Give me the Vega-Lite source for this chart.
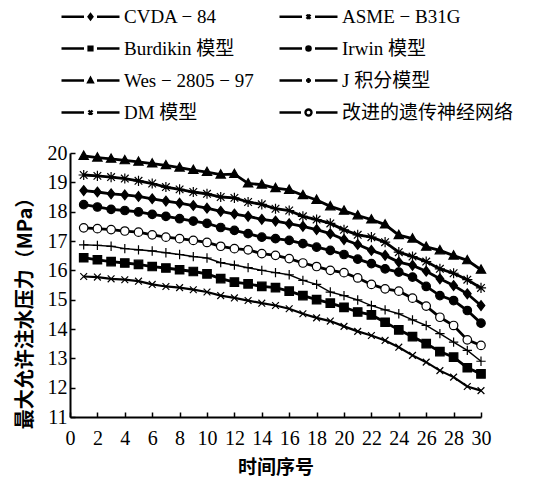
{
  "$schema": "https://vega.github.io/schema/vega-lite/v6.json",
  "autosize": "none",
  "padding": {"left": 70, "top": 153, "right": 67, "bottom": 69},
  "width": 411,
  "height": 264,
  "background": "white",
  "config": {
    "view": {"stroke": null},
    "axis": {"grid": false, "domainColor": "black", "tickColor": "black", "labelColor": "black", "titleColor": "black"},
    "legend": {
      "orient": "none", "legendX": 11, "legendY": -146, "title": null,
      "direction": "horizontal", "columns": 2, "columnPadding": 20, "rowPadding": 12,
      "symbolSize": 100, "symbolStrokeWidth": 2.4, "symbolStrokeColor": "black", "labelOffset": 24,
      "labelFont": "Liberation Serif, Noto Sans CJK SC", "labelFontSize": 19, "labelColor": "black",
      "labelLimit": 300
    }
  },
  "data": {
    "values": [
      {"x":1,"CVDA − 84":18.72,"ASME − B31G":19.25,"Burdikin 模型":16.43,"Irwin 模型":18.24,"Wes − 2805 − 97":19.9,"J 积分模型":16.87,"DM 模型":15.79,"改进的遗传神经网络":17.45},
      {"x":2,"CVDA − 84":18.67,"ASME − B31G":19.22,"Burdikin 模型":16.36,"Irwin 模型":18.16,"Wes − 2805 − 97":19.84,"J 积分模型":16.85,"DM 模型":15.77,"改进的遗传神经网络":17.42},
      {"x":3,"CVDA − 84":18.61,"ASME − B31G":19.18,"Burdikin 模型":16.3,"Irwin 模型":18.08,"Wes − 2805 − 97":19.8,"J 积分模型":16.82,"DM 模型":15.71,"改进的遗传神经网络":17.39},
      {"x":4,"CVDA − 84":18.57,"ASME − B31G":19.13,"Burdikin 模型":16.25,"Irwin 模型":18.04,"Wes − 2805 − 97":19.75,"J 积分模型":16.74,"DM 模型":15.68,"改进的遗传神经网络":17.34},
      {"x":5,"CVDA − 84":18.52,"ASME − B31G":19.05,"Burdikin 模型":16.2,"Irwin 模型":17.99,"Wes − 2805 − 97":19.7,"J 积分模型":16.7,"DM 模型":15.63,"改进的遗传神经网络":17.3},
      {"x":6,"CVDA − 84":18.44,"ASME − B31G":18.96,"Burdikin 模型":16.13,"Irwin 模型":17.91,"Wes − 2805 − 97":19.64,"J 积分模型":16.66,"DM 模型":15.52,"改进的遗传神经网络":17.21},
      {"x":7,"CVDA − 84":18.36,"ASME − B31G":18.84,"Burdikin 模型":16.08,"Irwin 模型":17.84,"Wes − 2805 − 97":19.58,"J 积分模型":16.6,"DM 模型":15.45,"改进的遗传神经网络":17.13},
      {"x":8,"CVDA − 84":18.29,"ASME − B31G":18.76,"Burdikin 模型":16.02,"Irwin 模型":17.76,"Wes − 2805 − 97":19.5,"J 积分模型":16.54,"DM 模型":15.41,"改进的遗传神经网络":17.08},
      {"x":9,"CVDA − 84":18.21,"ASME − B31G":18.67,"Burdikin 模型":15.96,"Irwin 模型":17.68,"Wes − 2805 − 97":19.42,"J 积分模型":16.47,"DM 模型":15.34,"改进的遗传神经网络":17.02},
      {"x":10,"CVDA − 84":18.12,"ASME − B31G":18.61,"Burdikin 模型":15.88,"Irwin 模型":17.6,"Wes − 2805 − 97":19.35,"J 积分模型":16.42,"DM 模型":15.26,"改进的遗传神经网络":16.95},
      {"x":11,"CVDA − 84":18.01,"ASME − B31G":18.5,"Burdikin 模型":15.72,"Irwin 模型":17.46,"Wes − 2805 − 97":19.26,"J 积分模型":16.26,"DM 模型":15.14,"改进的遗传神经网络":16.82},
      {"x":12,"CVDA − 84":17.92,"ASME − B31G":18.47,"Burdikin 模型":15.6,"Irwin 模型":17.36,"Wes − 2805 − 97":19.28,"J 积分模型":16.18,"DM 模型":15.06,"改进的遗传神经网络":16.74},
      {"x":13,"CVDA − 84":17.84,"ASME − B31G":18.33,"Burdikin 模型":15.54,"Irwin 模型":17.25,"Wes − 2805 − 97":18.96,"J 积分模型":16.09,"DM 模型":14.97,"改进的遗传神经网络":16.7},
      {"x":14,"CVDA − 84":17.74,"ASME − B31G":18.25,"Burdikin 模型":15.45,"Irwin 模型":17.13,"Wes − 2805 − 97":18.92,"J 积分模型":16.0,"DM 模型":14.88,"改进的遗传神经网络":16.57},
      {"x":15,"CVDA − 84":17.68,"ASME − B31G":18.1,"Burdikin 模型":15.41,"Irwin 模型":17.08,"Wes − 2805 − 97":18.8,"J 积分模型":15.92,"DM 模型":14.8,"改进的遗传神经网络":16.51},
      {"x":16,"CVDA − 84":17.59,"ASME − B31G":18.04,"Burdikin 模型":15.29,"Irwin 模型":17.02,"Wes − 2805 − 97":18.74,"J 积分模型":15.85,"DM 模型":14.69,"改进的遗传神经网络":16.4},
      {"x":17,"CVDA − 84":17.5,"ASME − B31G":17.84,"Burdikin 模型":15.14,"Irwin 模型":16.91,"Wes − 2805 − 97":18.56,"J 积分模型":15.66,"DM 模型":14.52,"改进的遗传神经网络":16.25},
      {"x":18,"CVDA − 84":17.39,"ASME − B31G":17.73,"Burdikin 模型":15.0,"Irwin 模型":16.79,"Wes − 2805 − 97":18.4,"J 积分模型":15.52,"DM 模型":14.38,"改进的遗传神经网络":16.13},
      {"x":19,"CVDA − 84":17.25,"ASME − B31G":17.6,"Burdikin 模型":14.88,"Irwin 模型":16.68,"Wes − 2805 − 97":18.18,"J 积分模型":15.26,"DM 模型":14.27,"改进的遗传神经网络":16.0},
      {"x":20,"CVDA − 84":17.05,"ASME − B31G":17.38,"Burdikin 模型":14.74,"Irwin 模型":16.54,"Wes − 2805 − 97":18.03,"J 积分模型":15.14,"DM 模型":14.09,"改进的遗传神经网络":15.92},
      {"x":21,"CVDA − 84":16.88,"ASME − B31G":17.21,"Burdikin 模型":14.58,"Irwin 模型":16.38,"Wes − 2805 − 97":17.87,"J 积分模型":14.99,"DM 模型":13.92,"改进的遗传神经网络":15.74},
      {"x":22,"CVDA − 84":16.68,"ASME − B31G":17.13,"Burdikin 模型":14.48,"Irwin 模型":16.23,"Wes − 2805 − 97":17.73,"J 积分模型":14.8,"DM 模型":13.78,"改进的遗传神经网络":15.52},
      {"x":23,"CVDA − 84":16.51,"ASME − B31G":16.96,"Burdikin 模型":14.23,"Irwin 模型":16.05,"Wes − 2805 − 97":17.56,"J 积分模型":14.65,"DM 模型":13.61,"改进的遗传神经网络":15.37},
      {"x":24,"CVDA − 84":16.28,"ASME − B31G":16.62,"Burdikin 模型":13.97,"Irwin 模型":15.94,"Wes − 2805 − 97":17.2,"J 积分模型":14.52,"DM 模型":13.38,"改进的遗传神经网络":15.29},
      {"x":25,"CVDA − 84":16.17,"ASME − B31G":16.47,"Burdikin 模型":13.74,"Irwin 模型":15.77,"Wes − 2805 − 97":17.08,"J 积分模型":14.31,"DM 模型":13.1,"改进的遗传神经网络":15.05},
      {"x":26,"CVDA − 84":15.97,"ASME − B31G":16.3,"Burdikin 模型":13.5,"Irwin 模型":15.45,"Wes − 2805 − 97":16.8,"J 积分模型":14.12,"DM 模型":12.87,"改进的遗传神经网络":14.78},
      {"x":27,"CVDA − 84":15.71,"ASME − B31G":16.05,"Burdikin 模型":13.23,"Irwin 模型":15.14,"Wes − 2805 − 97":16.68,"J 积分模型":13.84,"DM 模型":12.58,"改进的遗传神经网络":14.4},
      {"x":28,"CVDA − 84":15.48,"ASME − B31G":15.9,"Burdikin 模型":13.04,"Irwin 模型":14.97,"Wes − 2805 − 97":16.5,"J 积分模型":13.55,"DM 模型":12.36,"改进的遗传神经网络":14.12},
      {"x":29,"CVDA − 84":15.2,"ASME − B31G":15.68,"Burdikin 模型":12.68,"Irwin 模型":14.63,"Wes − 2805 − 97":16.34,"J 积分模型":13.27,"DM 模型":12.04,"改进的遗传神经网络":13.63},
      {"x":30,"CVDA − 84":14.8,"ASME − B31G":15.4,"Burdikin 模型":12.47,"Irwin 模型":14.2,"Wes − 2805 − 97":16.02,"J 积分模型":12.9,"DM 模型":11.9,"改进的遗传神经网络":13.44}
    ]
  },
  "transform": [
    {"fold": ["CVDA − 84","ASME − B31G","Burdikin 模型","Irwin 模型","Wes − 2805 − 97","J 积分模型","DM 模型","改进的遗传神经网络"], "as": ["series","pressure"]}
  ],
  "encoding": {
    "x": {
      "field": "x", "type": "quantitative",
      "scale": {"domain": [0, 30], "nice": false, "zero": false},
      "axis": {
        "title": "时间序号", "values": [0,2,4,6,8,10,12,14,16,18,20,22,24,26,28,30],
        "tickSize": -5, "tickWidth": 1.5, "domainWidth": 2, "labelPadding": 16,
        "labelFont": "Liberation Serif", "labelFontSize": 20, "labelFlush": false, "labelOverlap": false,
        "titleFont": "Noto Sans CJK SC", "titleFontSize": 19, "titleFontWeight": "bold", "titlePadding": 10
      }
    },
    "y": {
      "field": "pressure", "type": "quantitative",
      "scale": {"domain": [11, 20], "nice": false, "zero": false},
      "axis": {
        "title": "最大允许注水压力（MPa）", "values": [11,12,13,14,15,16,17,18,19,20],
        "tickSize": -5, "tickWidth": 1.5, "domainWidth": 2, "labelPadding": 8,
        "labelFont": "Liberation Serif", "labelFontSize": 20, "labelFlush": false, "labelOverlap": false,
        "titleFont": "Noto Sans CJK SC", "titleFontSize": 20, "titleFontWeight": "bold", "titlePadding": 12, "titleY": 155
      }
    }
  },
  "resolve": {"scale": {"shape": "independent", "fill": "independent", "stroke": "independent"}, "legend": {"shape": "independent", "fill": "independent", "stroke": "independent"}},
  "layer": [
    {
      "mark": {"type": "line", "color": "black"},
      "encoding": {
        "detail": {"field": "series", "type": "nominal"},
        "strokeWidth": {
          "condition": [
            {"test": "datum.series === 'J 积分模型'", "value": 1.4},
            {"test": "datum.series === 'DM 模型'", "value": 2.2}
          ],
          "value": 2.8
        }
      }
    },
    {
      "mark": {"type": "point", "stroke": "black", "strokeWidth": 1.2, "size": 72, "opacity": 1},
      "encoding": {
        "shape": {
          "field": "series", "type": "nominal", "legend": null,
          "scale": {
            "domain": ["CVDA − 84","ASME − B31G","Burdikin 模型","Irwin 模型","Wes − 2805 − 97","J 积分模型","DM 模型","改进的遗传神经网络"],
            "range": [
              "M0,-1.15L0.9,0L0,1.15L-0.9,0Z",
              "M-0.9,-0.9L0.9,0.9M-0.9,0.9L0.9,-0.9M0,-1.2L0,1.2M-1.2,0L1.2,0",
              "M-1,-1H1V1H-1Z",
              "M1,0A1,1 0 1 1 -1,0A1,1 0 1 1 1,0Z",
              "M0,-1.15L1.1,0.8L-1.1,0.8Z",
              "M0,-1.1V1.1M-1.1,0H1.1",
              "M-0.8,-0.8L0.8,0.8M-0.8,0.8L0.8,-0.8",
              "M1.0,0A1.0,1.0 0 1 1 -1.0,0A1.0,1.0 0 1 1 1.0,0Z"
            ]
          }
        },
        "fill": {
          "field": "series", "type": "nominal", "legend": null,
          "scale": {
            "domain": ["CVDA − 84","ASME − B31G","Burdikin 模型","Irwin 模型","Wes − 2805 − 97","J 积分模型","DM 模型","改进的遗传神经网络"],
            "range": ["black","white","black","black","black","transparent","transparent","white"]
          }
        }
      }
    },
    {
      "transform": [{"filter": "datum.x > 100"}],
      "mark": {"type": "point", "strokeWidth": 2.4, "size": 100, "opacity": 1},
      "encoding": {
        "shape": {
          "field": "series", "type": "nominal",
          "scale": {
            "domain": ["CVDA − 84","ASME − B31G","Burdikin 模型","Irwin 模型","Wes − 2805 − 97","J 积分模型","DM 模型","改进的遗传神经网络"],
            "range": [
              "M-5.8,0H-1.3M1.3,0H5.8M0,-0.5L0.38,0L0,0.5L-0.38,0Z",
              "M-5.8,0H-1.3M1.3,0H5.8M-0.4,-0.4L0.4,0.4M-0.4,0.4L0.4,-0.4M0,-0.5V0.5",
              "M-5.8,0H-1.3M1.3,0H5.8M-0.38,-0.38H0.38V0.38H-0.38Z",
              "M-5.8,0H-1.3M1.3,0H5.8M0.42,0A0.42,0.42 0 1 1 -0.42,0A0.42,0.42 0 1 1 0.42,0Z",
              "M-5.8,0H-1.3M1.3,0H5.8M0,-0.5L0.45,0.35L-0.45,0.35Z",
              "M-5.8,0H-1.3M1.3,0H5.8M0,-0.5V0.5M-0.5,0H0.5",
              "M-5.8,0H-1.3M1.3,0H5.8M-0.4,-0.4L0.4,0.4M-0.4,0.4L0.4,-0.4",
              "M-5.8,0H-1.5M1.5,0H5.8M0.6,0A0.6,0.6 0 1 1 -0.6,0A0.6,0.6 0 1 1 0.6,0Z"
            ]
          },
          "legend": {}
        },
        "fill": {
          "field": "series", "type": "nominal",
          "scale": {
            "domain": ["CVDA − 84","ASME − B31G","Burdikin 模型","Irwin 模型","Wes − 2805 − 97","J 积分模型","DM 模型","改进的遗传神经网络"],
            "range": ["black","black","black","black","black","black","black","white"]
          },
          "legend": {}
        },
        "stroke": {
          "field": "series", "type": "nominal",
          "scale": {
            "domain": ["CVDA − 84","ASME − B31G","Burdikin 模型","Irwin 模型","Wes − 2805 − 97","J 积分模型","DM 模型","改进的遗传神经网络"],
            "range": ["black","black","black","black","black","black","black","black"]
          },
          "legend": {}
        }
      }
    }
  ]
}
